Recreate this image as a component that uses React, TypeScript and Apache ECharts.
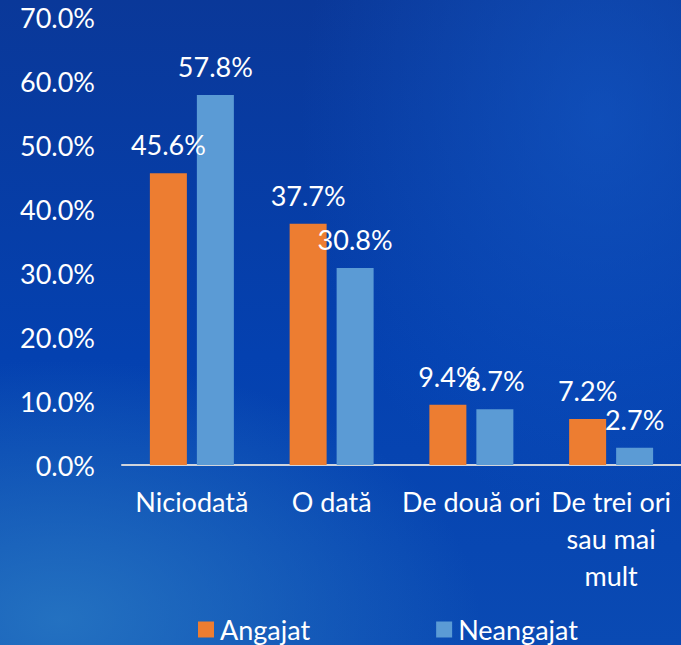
import React, { useEffect, useRef } from "react";
import * as echarts from "echarts";

const categories = ["Niciodată", "O dată", "De două ori", "De trei ori\nsau mai\nmult"];
const angajat = [45.6, 37.7, 9.4, 7.2];
const neangajat = [57.8, 30.8, 8.7, 2.7];
const seriesNames = ["Angajat", "Neangajat"];

const FONT = "Lato, 'Open Sans', sans-serif";
const FS = 27;

export default function App() {
  const ref = useRef<HTMLDivElement>(null);
  useEffect(() => {
    document.body.style.margin = "0";
    const chart = echarts.init(ref.current!, null, { renderer: "svg" });
    const label = {
      show: true,
      position: "top" as const,
      distance: 15,
      color: "#ffffff",
      fontSize: FS,
      fontFamily: FONT,
      formatter: (p: any) => p.value.toFixed(1) + "%",
    };
    chart.setOption({
      animation: false,
      backgroundColor: "transparent",
      grid: { left: 122, right: 0, top: 17, bottom: 180 },
      legend: {
        bottom: -3,
        left: 193,
        itemWidth: 16,
        itemHeight: 16,
        itemGap: 126,
        icon: "rect",
        textStyle: { color: "#ffffff", fontSize: FS, fontFamily: FONT, padding: [0, 0, 0, 1] },
        data: seriesNames,
      },
      xAxis: {
        type: "category",
        data: categories,
        axisLine: { lineStyle: { color: "#d0d4dc", width: 2 } },
        axisTick: { show: false },
        axisLabel: {
          color: "#ffffff",
          fontSize: FS,
          fontFamily: FONT,
          margin: 18,
          lineHeight: 37,
          interval: 0,
        },
      },
      yAxis: {
        type: "value",
        min: 0,
        max: 70,
        interval: 10,
        splitLine: { show: false },
        axisLine: { show: false },
        axisTick: { show: false },
        axisLabel: {
          color: "#ffffff",
          fontSize: FS,
          fontFamily: FONT,
          margin: 27,
          align: "right",
          formatter: (v: number) => v.toFixed(1) + "%",
        },
      },
      series: [
        {
          name: seriesNames[0],
          type: "bar",
          data: angajat,
          barWidth: 37,
          barGap: "27%",
          itemStyle: { color: "#ED7D31" },
          label,
        },
        {
          name: seriesNames[1],
          type: "bar",
          data: neangajat,
          barWidth: 37,
          itemStyle: { color: "#5B9BD5" },
          label,
        },
      ],
    });
    return () => chart.dispose();
  }, []);
  return (
    <div
      style={{
        width: 681,
        height: 645,
        background:
          "radial-gradient(ellipse 420px 260px at 60px 620px, rgba(40,120,195,0.85), rgba(40,120,195,0) 100%), radial-gradient(ellipse 300px 400px at 600px 120px, rgba(20,90,200,0.6), rgba(20,90,200,0) 100%), linear-gradient(180deg, #0a3899 0%, #0441b0 55%, #0a4ab3 100%)",
      }}
    >
      <div ref={ref} style={{ width: 681, height: 645 }} />
    </div>
  );
}
